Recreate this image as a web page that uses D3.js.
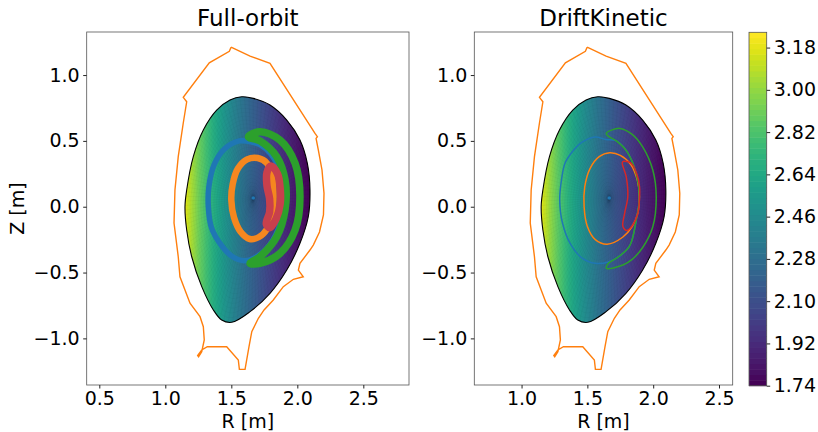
<!DOCTYPE html>
<html>
<head>
<meta charset="UTF-8">
<script src="https://cdn.jsdelivr.net/npm/d3@7"></script>
<style>
  body { margin: 0; background: #fff; }
  svg text { font-family: "DejaVu Sans", sans-serif; fill: #000; }
</style>
</head>
<body>
<svg id="chart" width="818" height="432"></svg>
<script>
// first wall (R, Z) [m]
const wall = [
  [1.498,1.212],[1.642,1.144],[1.793,1.089],[2.134,0.557],[2.152,0.532],[2.142,0.519],
  [2.159,0.431],[2.187,0.279],[2.202,0.102],[2.198,-0.063],[2.168,-0.192],[2.121,-0.291],
  [2.096,-0.329],[2.020,-0.430],[2.008,-0.481],[2.045,-0.532],[1.970,-0.551],[1.894,-0.607],
  [1.818,-0.708],[1.748,-0.784],[1.705,-0.847],[1.655,-0.949],[1.634,-1.063],[1.604,-1.235],
  [1.561,-1.235],[1.553,-1.164],[1.465,-1.063],[1.318,-1.063],[1.276,-1.088],[1.245,-1.130],
  [1.252,-1.140],[1.276,-1.101],[1.295,-1.012],[1.288,-0.911],[1.263,-0.835],[1.187,-0.733],
  [1.149,-0.633],[1.111,-0.532],[1.098,-0.380],[1.066,-0.124],[1.073,0.127],[1.098,0.380],
  [1.136,0.636],[1.162,0.797],[1.136,0.831],[1.333,1.093],[1.485,1.180],[1.498,1.212]
];

// last closed flux surface
const lcfs = [
  [1.579,0.835],[1.667,0.823],[1.793,0.772],[1.920,0.658],[2.020,0.506],[2.076,0.330],
  [2.096,0.127],[2.083,-0.076],[2.020,-0.278],[1.920,-0.481],[1.793,-0.658],[1.642,-0.797],
  [1.503,-0.878],[1.427,-0.860],[1.364,-0.784],[1.276,-0.607],[1.200,-0.380],[1.162,-0.177],
  [1.149,0.0],[1.162,0.127],[1.212,0.380],[1.288,0.582],[1.389,0.733],[1.490,0.810]
];

const magAxis = [1.666, 0.066];
const B0R0 = 3.655;           // |B| ~ B0*R0/R  [T m]
const bRange = [1.74, 3.245];
const cbarTicks = [1.74, 1.92, 2.10, 2.28, 2.46, 2.64, 2.82, 3.00, 3.18];
const zTicks = [-1.0, -0.5, 0.0, 0.5, 1.0];

// full-orbit traces
const foBlue = [[1.66,0.49],[1.56,0.50],[1.45,0.44],[1.37,0.32],[1.33,0.15],[1.326,0.0],[1.35,-0.16],
  [1.43,-0.30],[1.51,-0.38],[1.60,-0.41],[1.69,-0.38],[1.79,-0.29],[1.87,-0.13],[1.90,0.05],
  [1.88,0.24],[1.80,0.40],[1.72,0.47]];
const foOrange = [[1.70,0.37],[1.62,0.36],[1.55,0.29],[1.51,0.17],[1.50,0.05],[1.52,-0.08],[1.57,-0.19],
  [1.64,-0.245],[1.71,-0.23],[1.77,-0.17],[1.81,-0.05],[1.82,0.08],[1.81,0.22],[1.77,0.33]];
const foGreen = [[1.63,0.53],[1.717,0.57],[1.869,0.506],[1.983,0.33],[2.02,0.076],[1.983,-0.177],
  [1.869,-0.354],[1.717,-0.43],[1.642,-0.43],[1.717,-0.38],[1.844,-0.228],[1.907,-0.025],
  [1.907,0.203],[1.844,0.38],[1.717,0.50]];
const foRed = [[1.80,0.31],[1.85,0.25],[1.87,0.14],[1.87,0.02],[1.84,-0.09],[1.79,-0.16],[1.765,-0.13],
  [1.79,-0.04],[1.79,0.06],[1.77,0.16],[1.77,0.26]];

// drift-kinetic traces
const dkBlue = [[1.64,0.51],[1.56,0.53],[1.46,0.49],[1.38,0.41],[1.33,0.33],[1.30,0.18],[1.29,0.05],
  [1.31,-0.12],[1.37,-0.28],[1.46,-0.39],[1.56,-0.43],[1.66,-0.42],[1.73,-0.385],[1.82,-0.30],
  [1.871,-0.101],[1.895,0.08],[1.87,0.254],[1.80,0.42],[1.72,0.50]];
const dkOrange = [[1.67,0.41],[1.75,0.39],[1.83,0.32],[1.88,0.20],[1.895,0.08],[1.88,-0.06],[1.84,-0.15],
  [1.77,-0.23],[1.65,-0.285],[1.56,-0.25],[1.50,-0.15],[1.475,0.0],[1.48,0.15],[1.52,0.29],[1.59,0.38]];
const dkGreen = [[1.643,0.557],[1.745,0.595],[1.84,0.55],[1.92,0.455],[1.997,0.279],[2.023,0.076],
  [1.997,-0.152],[1.92,-0.31],[1.84,-0.40],[1.77,-0.443],[1.644,-0.468],[1.66,-0.43],[1.73,-0.385],
  [1.82,-0.30],[1.871,-0.101],[1.895,0.08],[1.87,0.254],[1.80,0.42],[1.72,0.50],[1.66,0.535]];
const dkRed = [[1.775,0.345],[1.833,0.33],[1.875,0.25],[1.896,0.152],[1.895,0.05],[1.883,-0.05],
  [1.85,-0.13],[1.80,-0.18],[1.77,-0.15],[1.783,-0.05],[1.807,0.076],[1.795,0.228],[1.765,0.335]];

const orbitColors = ["#1f77b4", "#ff7f0e", "#2ca02c", "#d62728"];
const bandColors = ["#1f77b4", "#f5871f", "#2ca02c", "#c8404c"];

const panels = [
  { id: "fo", title: "Full-orbit", x0: 86.7, x1: 409, rDomain: [0.4045, 2.846], rTicks: [0.5, 1.0, 1.5, 2.0, 2.5],
    orbits: [foBlue, foOrange, foGreen, foRed], widths: [5.5, 6.5, 7.5, 7.5], colors: bandColors, ylabel: true },
  { id: "dk", title: "DriftKinetic", x0: 474.3, x1: 732.7, rDomain: [0.641, 2.604], rTicks: [1.0, 1.5, 2.0, 2.5],
    orbits: [dkBlue, dkOrange, dkGreen, dkRed], widths: [1.5, 1.5, 1.5, 1.5], colors: orbitColors, ylabel: false }
];
const yTop = 32, yBot = 385;

const svg = d3.select("#chart");
const defs = svg.append("defs");
const color = d3.scaleSequential(d3.interpolateViridis).domain(bRange);

panels.forEach(p => {
  const g = svg.append("g");
  const x = d3.scaleLinear().domain(p.rDomain).range([p.x0, p.x1]);
  const y = d3.scaleLinear().domain([-1.354, 1.327]).range([yBot, yTop]);
  const smooth = d3.line().x(d => x(d[0])).y(d => y(d[1])).curve(d3.curveCatmullRomClosed.alpha(0.5));
  const poly = d3.line().x(d => x(d[0])).y(d => y(d[1]));

  // wall
  g.append("path").attr("d", poly(wall)).attr("fill", "none")
    .attr("stroke", "#ff7f0e").attr("stroke-width", 1.4);

  // field |B| inside the LCFS
  defs.append("clipPath").attr("id", "clip-" + p.id)
    .append("path").attr("d", smooth(lcfs));
  const mesh = g.append("g").attr("clip-path", `url(#clip-${p.id})`);
  const rMin = d3.min(lcfs, d => d[0]), rMax = d3.max(lcfs, d => d[0]);
  const px = d3.range(Math.floor(x(rMin)) - 1, Math.ceil(x(rMax)) + 1);
  mesh.selectAll("rect").data(px).join("rect")
    .attr("x", d => d).attr("width", 1.05)
    .attr("y", y(0.9)).attr("height", y(-0.95) - y(0.9))
    .attr("fill", d => color(B0R0 / x.invert(d + 0.5)));

  // faint computational grid (spokes and flux rings)
  const bnd = g.append("path").attr("d", smooth(lcfs)).attr("fill", "none")
    .attr("stroke", "#000").attr("stroke-width", 1.1);
  const L = bnd.node().getTotalLength();
  const nT = 120, nR = 26;
  const ax = [x(magAxis[0]), y(magAxis[1])];
  const edge = d3.range(nT).map(i => bnd.node().getPointAtLength(L * i / nT));
  mesh.append("g").selectAll("line").data(edge).join("line")
    .attr("x1", ax[0]).attr("y1", ax[1]).attr("x2", d => d.x).attr("y2", d => d.y)
    .attr("stroke", "#000").attr("stroke-opacity", 0.05).attr("stroke-width", 0.6);
  mesh.append("g").selectAll("path").data(d3.range(1, nR)).join("path")
    .attr("d", smooth(lcfs)).attr("fill", "none")
    .attr("transform", s => `translate(${ax[0]},${ax[1]}) scale(${s / nR}) translate(${-ax[0]},${-ax[1]})`)
    .attr("vector-effect", "non-scaling-stroke")
    .attr("stroke", "#000").attr("stroke-opacity", 0.035).attr("stroke-width", 0.6);

  // orbits
  p.orbits.forEach((o, k) => {
    g.append("path").attr("d", smooth(o)).attr("fill", "none")
      .attr("stroke", p.colors[k]).attr("stroke-width", p.widths[k])
      .attr("stroke-linejoin", "round");
  });
  g.append("circle").attr("cx", ax[0]).attr("cy", ax[1]).attr("r", 1.8).attr("fill", "#1f77b4");
  bnd.raise();

  // frame
  g.append("rect").attr("x", p.x0).attr("y", yTop).attr("width", p.x1 - p.x0).attr("height", yBot - yTop)
    .attr("fill", "none").attr("stroke", "#555").attr("stroke-width", 0.8);

  const xa = g.append("g").attr("transform", `translate(0,${yBot})`)
    .call(d3.axisBottom(x).tickValues(p.rTicks).tickSize(3.5).tickPadding(3.5).tickFormat(d3.format(".1f")));
  const ya = g.append("g").attr("transform", `translate(${p.x0},0)`)
    .call(d3.axisLeft(y).tickValues(zTicks).tickSize(3.5).tickPadding(3.5).tickFormat(d3.format(".1f")));
  [xa, ya].forEach(a => {
    a.select(".domain").remove();
    a.selectAll("text").attr("font-size", 19).attr("font-family", "DejaVu Sans");
    a.selectAll("line").attr("stroke", "#222");
  });

  g.append("text").attr("x", (p.x0 + p.x1) / 2).attr("y", 26).attr("text-anchor", "middle")
    .attr("font-size", 23).text(p.title);
  g.append("text").attr("x", (p.x0 + p.x1) / 2).attr("y", 428).attr("text-anchor", "middle")
    .attr("font-size", 19).text("R [m]");
  if (p.ylabel) {
    g.append("text").attr("transform", `translate(24,${(yTop + yBot) / 2}) rotate(-90)`)
      .attr("text-anchor", "middle").attr("font-size", 19).text("Z [m]");
  }
});

// colorbar
const cb = { x: 749, w: 17.7, top: 32.3, bot: 385.7 };
const cy = d3.scaleLinear().domain(bRange).range([cb.bot, cb.top]);
const nLev = 64;
const levels = d3.range(nLev).map(i => bRange[0] + (bRange[1] - bRange[0]) * i / nLev);
const step = (bRange[1] - bRange[0]) / nLev;
svg.append("g").selectAll("rect").data(levels).join("rect")
  .attr("x", cb.x).attr("width", cb.w)
  .attr("y", d => cy(d + step)).attr("height", d => cy(d) - cy(d + step) + 0.5)
  .attr("fill", d => color(d + step / 2));
svg.append("rect").attr("x", cb.x).attr("y", cb.top).attr("width", cb.w).attr("height", cb.bot - cb.top)
  .attr("fill", "none").attr("stroke", "#555").attr("stroke-width", 0.8);
const ca = svg.append("g").attr("transform", `translate(${cb.x + cb.w},0)`)
  .call(d3.axisRight(cy).tickValues(cbarTicks).tickSize(3.5).tickPadding(3.5).tickFormat(d3.format(".2f")));
ca.select(".domain").remove();
ca.selectAll("text").attr("font-size", 19).attr("font-family", "DejaVu Sans");
ca.selectAll("line").attr("stroke", "#222");
</script>
</body>
</html>
